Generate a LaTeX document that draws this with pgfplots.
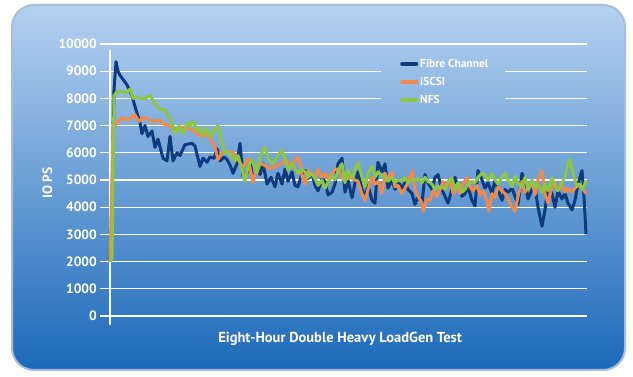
\documentclass[border=0pt]{standalone}
\usepackage{pgfplots}
\pgfplotsset{compat=1.18}
\usepackage{fontspec}
\setmainfont{PT Sans}
\definecolor{fcblue}{HTML}{0D3B7D}
\definecolor{isorange}{HTML}{F08A4B}
\definecolor{nfsgreen}{HTML}{8DC641}
\definecolor{bgtop}{HTML}{B5D1F0}
\definecolor{bgmid}{HTML}{5B91D4}
\definecolor{bgbot}{HTML}{1C69B9}
\definecolor{bgedge}{HTML}{A7BDDB}
\begin{document}
\begin{tikzpicture}
\useasboundingbox (0,0) rectangle (633bp,377bp);
\fill[white] (0,0) rectangle (633bp,377bp);
\shade[top color=bgtop, middle color=bgmid, bottom color=bgbot, draw=bgedge, line width=2bp, rounded corners=22bp] (12bp,7bp) rectangle (625bp,372bp);
\begin{axis}[
  at={(100bp,61bp)}, anchor=south west,
  scale only axis, width=487bp, height=272bp,
  xmin=100, xmax=587, ymin=0, ymax=10000,
  clip=false,
  axis line style={draw=none},
  major tick length=0pt,
  xtick=\empty,
  ytick={0,1000,...,10000},
  scaled y ticks=false,
  /pgf/number format/assume math mode=true,
  /pgf/number format/1000 sep={},
  yticklabel style={font=\fontsize{13.5bp}{15bp}\selectfont\bfseries, text=white, inner xsep=2bp, xshift=-1bp},
  xlabel={Eight-Hour Double Heavy LoadGen Test},
  ylabel={IO PS},
  every axis x label/.style={at={(rel axis cs:0.493,-0.0846)}, anchor=center, font=\fontsize{14.5bp}{16bp}\selectfont\bfseries, text=white},
  every axis y label/.style={at={(rel axis cs:-0.108,0.489)}, anchor=center, rotate=90, font=\fontsize{13.5bp}{15bp}\selectfont\bfseries, text=white},
  legend style={at={(axis cs:386,9700)}, anchor=north west, draw=none, fill=none,
    inner xsep=14bp, inner ysep=5bp, row sep=5bp,
    font=\fontsize{11.5bp}{13bp}\selectfont\bfseries, text=white,
    nodes={inner sep=2bp, text height=8bp, text depth=1bp}},
  legend cell align=left,
  legend image code/.code={\draw[#1, line width=4bp, line cap=round] (0bp,0bp) -- (14bp,0bp);},
  every axis plot/.append style={line width=3bp, line join=round, mark=none},
]
\pgfplotsinvokeforeach{0,1000,2000,3000,4000,5000,6000,7000,10000}{
  \draw[white, line width=1.2bp] (axis cs:100,#1) -- (axis cs:587,#1);
}
\pgfplotsinvokeforeach{8000,9000}{
  \draw[white, line width=1.2bp] (axis cs:100,#1) -- (axis cs:381,#1);
  \draw[white, line width=1.2bp] (axis cs:505,#1) -- (axis cs:587,#1);
}
\draw[white, line width=1.2bp] (axis cs:110,-330) -- (axis cs:110,9780);
\addplot[fcblue] coordinates {
(110,2000) (112,4000) (114,8300) (116,9350) (118,9000) (120,8850) (123,8700) (127,8500) (132,8100) (135,7700) (140,7100) (142,6700) (145,7000) (148,6600) (152,6800) (155,6200) (158,6500) (163,5800) (167,5700) (170,6600) (173,5700) (177,6000) (180,5900) (185,6300) (192,6350) (195,6250) (200,5500) (203,5800) (207,5650) (210,5850) (214,5800) (217,6150) (220,5700) (224,5850) (227,5750) (230,5550) (233,5250) (237,5600) (240,6350) (243,5150) (247,5250) (250,5700) (253,5000) (257,5400) (260,5200) (263,5600) (267,4850) (271,5100) (275,4750) (278,5250) (282,4850) (285,5400) (288,4950) (292,5300) (295,4800) (298,4750) (302,5250) (305,5350) (308,5050) (312,5250) (315,4800) (318,4600) (322,5050) (325,4950) (328,4450) (332,4550) (335,4850) (338,5600) (342,5800) (345,4550) (348,5000) (352,4350) (355,4900) (358,5300) (362,4650) (365,4400) (368,4800) (372,4250) (375,4150) (378,5650) (382,5300) (385,5600) (388,4700) (392,5000) (395,4650) (398,4950) (402,4700) (405,4900) (408,4650) (412,4500) (415,4100) (418,4400) (422,4150) (425,5200) (428,4900) (432,4650) (435,5100) (438,5200) (442,4650) (445,4400) (448,4150) (452,4650) (455,5100) (458,4750) (462,4400) (465,4500) (468,4750) (472,4250) (475,4050) (478,5350) (482,5000) (485,4700) (488,4900) (492,4500) (495,5000) (498,4650) (502,4250) (505,4650) (508,4550) (512,4700) (515,4400) (518,4100) (522,5250) (525,4900) (528,4300) (532,4650) (535,4750) (538,4000) (542,3300) (545,3900) (548,4750) (552,4500) (555,4000) (558,4600) (562,4300) (565,4500) (568,4150) (572,3900) (575,4250) (578,4850) (582,5350) (584,4400) (586,3000)
};
\addlegendentry{Fibre Channel}
\addplot[isorange] coordinates {
(110,2000) (113,6900) (117,7100) (122,7300) (128,7200) (135,7400) (139,7150) (143,7300) (148,7250) (153,7150) (160,7200) (164,7050) (168,7000) (172,6900) (177,6850) (182,6950) (187,6900) (192,6850) (197,6700) (202,6600) (206,6700) (210,6550) (215,6200) (218,5750) (222,6000) (228,6050) (233,6000) (238,5750) (243,5450) (248,5800) (253,4900) (257,5500) (262,5600) (266,5500) (270,5400) (275,5500) (278,5550) (282,5600) (285,5800) (290,5550) (293,5600) (297,5850) (300,5600) (302,5150) (305,4850) (308,5300) (312,5250) (315,5050) (318,5400) (322,5100) (325,5250) (328,5050) (332,5250) (335,5400) (338,5400) (342,5100) (345,5000) (350,5100) (355,5000) (358,4950) (362,4500) (365,4250) (368,4650) (372,5100) (375,4850) (378,4950) (382,4500) (385,5250) (388,5000) (392,5300) (395,4750) (398,4800) (402,4500) (405,4700) (408,4900) (412,5350) (415,4650) (418,4400) (422,4150) (423,3850) (427,4300) (430,4250) (433,4600) (437,4400) (440,4650) (443,4950) (447,4750) (450,5050) (453,4500) (457,4750) (460,4500) (463,4850) (467,5100) (470,4750) (473,4600) (477,4800) (480,4450) (483,4600) (487,4250) (489,3850) (492,4500) (495,4350) (498,4750) (502,4600) (505,4500) (508,4300) (512,4000) (515,3850) (518,4400) (522,4950) (525,4550) (528,4700) (532,4950) (535,4450) (538,5000) (542,5350) (545,4500) (548,4150) (552,4750) (555,4900) (558,4650) (562,4800) (565,4550) (568,4700) (572,4550) (575,4700) (578,4850) (582,4700) (586,4500)
};
\addlegendentry{iSCSI}
\addplot[nfsgreen] coordinates {
(110,2000) (112,2100) (113,5000) (114,8100) (117,8250) (122,8250) (126,8200) (130,8350) (133,8000) (137,8050) (141,8000) (145,8000) (150,8100) (155,7800) (160,7600) (164,7600) (168,7400) (172,7100) (175,6700) (179,7000) (183,6700) (187,7100) (190,7000) (193,7150) (197,6800) (200,6900) (203,6650) (206,6900) (210,6600) (214,6800) (218,7000) (222,6350) (225,6000) (228,6050) (232,5850) (235,5700) (238,5900) (242,5400) (245,4950) (248,5500) (252,5750) (257,5250) (260,5850) (263,6100) (265,6200) (268,5800) (272,5600) (275,5700) (278,5900) (282,6100) (285,5800) (288,5350) (292,5600) (295,5400) (298,5250) (302,5400) (305,5300) (308,5100) (312,5250) (315,5050) (318,4800) (322,5000) (325,4700) (328,4900) (332,5150) (335,5000) (338,5350) (342,5600) (345,4900) (348,5350) (352,5050) (355,5400) (358,5650) (362,5100) (365,4750) (368,5250) (372,5500) (375,5100) (378,5300) (382,5150) (385,5050) (388,4950) (392,5100) (395,4900) (398,5000) (402,4950) (405,5100) (408,4900) (412,5000) (415,5000) (418,5050) (422,4900) (425,5100) (428,4950) (432,4850) (435,4650) (438,4750) (442,4750) (445,4650) (448,4950) (452,5050) (455,4650) (458,4900) (462,4550) (465,4650) (468,4850) (472,4950) (475,4900) (478,5100) (482,5250) (485,5200) (488,5000) (492,5250) (495,5000) (498,4850) (502,5100) (505,5250) (508,5000) (512,4750) (515,5150) (518,4900) (522,4750) (525,5100) (528,4650) (532,5000) (535,4750) (538,4850) (542,4550) (545,4850) (548,4600) (552,5100) (555,4750) (558,4600) (562,4900) (565,5100) (568,5600) (570,5750) (573,5250) (577,4750) (580,4850) (583,4650) (586,5000)
};
\addlegendentry{NFS}
\end{axis}
\end{tikzpicture}
\end{document}
